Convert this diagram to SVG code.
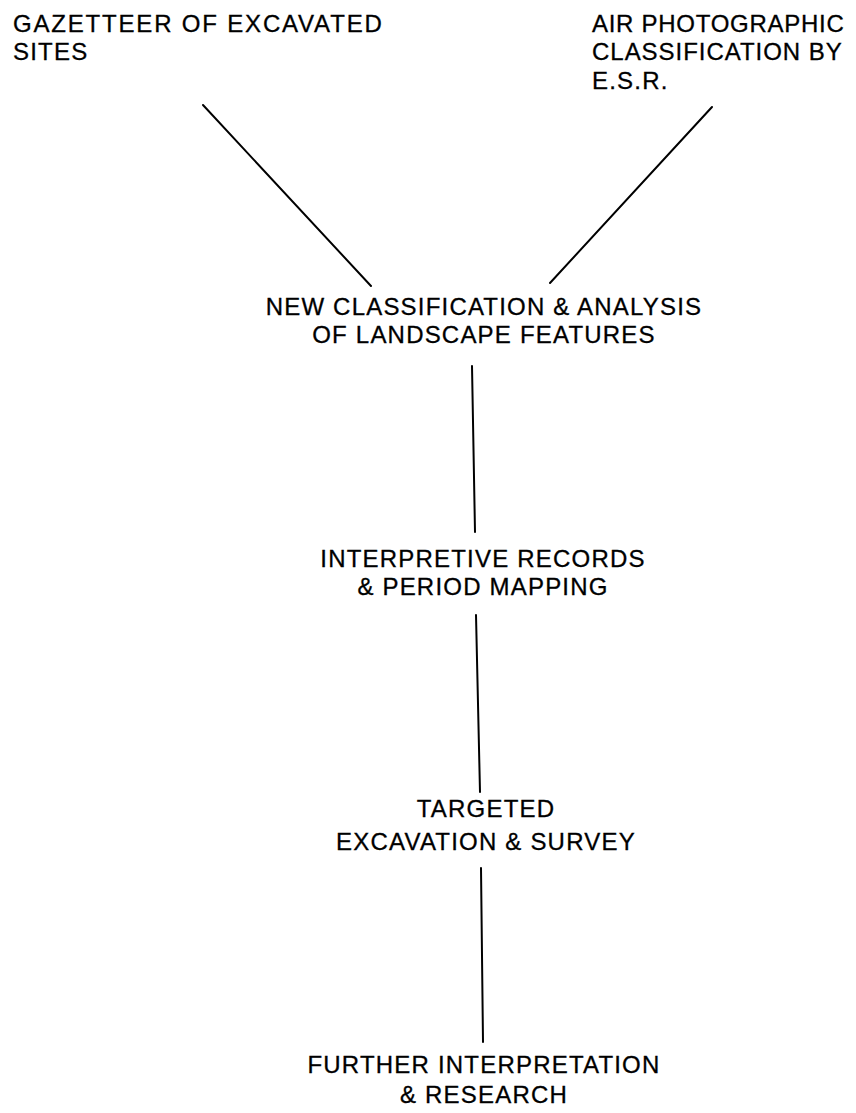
<svg xmlns="http://www.w3.org/2000/svg" width="856" height="1113" viewBox="0 0 856 1113">
<style>
text{font-family:"Liberation Sans",Arial,sans-serif;font-size:24px;letter-spacing:1.2px;fill:#000;stroke:#000;stroke-width:0.3}
.c{text-anchor:middle}
.ln{stroke:#000;stroke-width:2;fill:none;stroke-linecap:round}
</style>
<rect width="856" height="1113" fill="#fff"/>
<g id="connectors">
<line class="ln" x1="203" y1="105" x2="371" y2="286"/>
<line class="ln" x1="712" y1="107" x2="550" y2="283"/>
<line class="ln" x1="472" y1="366" x2="475" y2="532"/>
<line class="ln" x1="476" y1="615" x2="480" y2="792"/>
<line class="ln" x1="481" y1="868" x2="483" y2="1042"/>
</g>
<g id="gazetteer">
<text x="13" y="32" textLength="370" lengthAdjust="spacing">GAZETTEER OF EXCAVATED</text>
<text x="13" y="60">SITES</text>
</g>
<g id="air-photo">
<text x="592" y="32" textLength="253" lengthAdjust="spacing">AIR PHOTOGRAPHIC</text>
<text x="592" y="60" textLength="251" lengthAdjust="spacing">CLASSIFICATION BY</text>
<text x="592" y="89">E.S.R.</text>
</g>
<g id="new-classification">
<text class="c" x="484" y="315">NEW CLASSIFICATION &amp; ANALYSIS</text>
<text class="c" x="484" y="343">OF LANDSCAPE FEATURES</text>
</g>
<g id="interpretive">
<text class="c" x="483" y="567">INTERPRETIVE RECORDS</text>
<text class="c" x="483" y="595">&amp; PERIOD MAPPING</text>
</g>
<g id="targeted">
<text class="c" x="486" y="817">TARGETED</text>
<text class="c" x="486" y="850">EXCAVATION &amp; SURVEY</text>
</g>
<g id="further">
<text class="c" x="484" y="1073">FURTHER INTERPRETATION</text>
<text class="c" x="484" y="1103">&amp; RESEARCH</text>
</g>
</svg>
